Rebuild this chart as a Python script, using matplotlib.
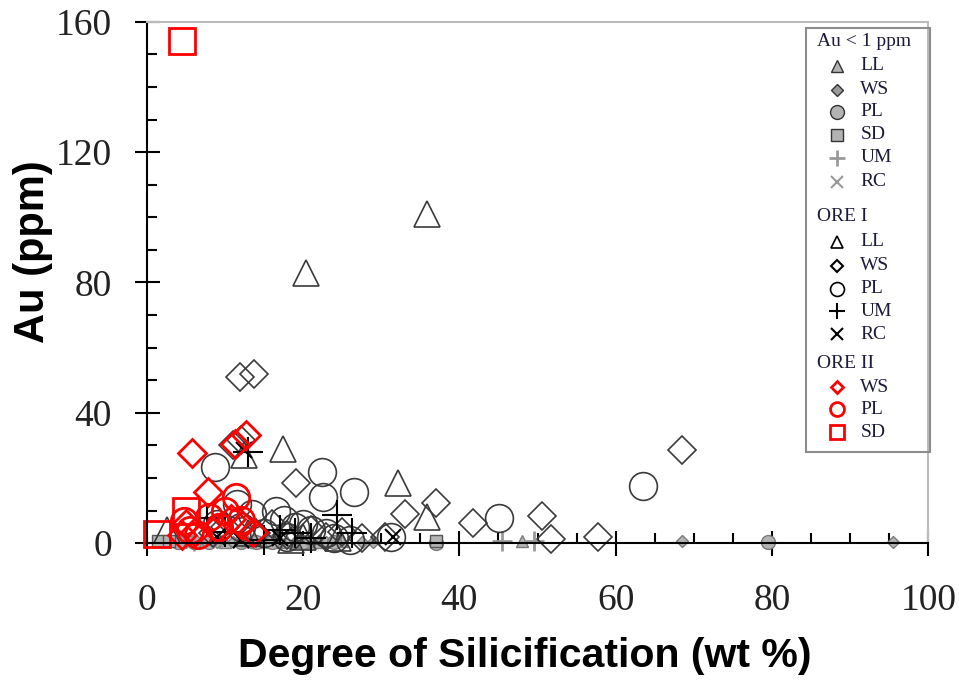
import numpy as np
import matplotlib.pyplot as plt
from matplotlib.patches import Rectangle

# ---- data ----
# Au < 1 ppm (grey filled)
low_ll_x = [10, 14, 16, 18, 20, 22, 25, 48]
low_ll_y = [0.3, 0.3, 0.2, 0.3, 0.3, 0.4, 0.5, 0.5]
low_ws_x = [5, 7, 9, 11, 13, 15, 17, 19, 21, 23, 27.5, 29, 68.5, 95.5]
low_ws_y = [0.3, 0.2, 0.3, 0.3, 0.2, 0.3, 0.2, 0.3, 0.3, 0.2, 0.3, 0.2, 0.5, 0.4]
low_pl_x = [4, 6, 8, 12, 14, 16, 20, 24, 37, 79.5]
low_pl_y = [0.3, 0.2, 0.4, 0.3, 0.2, 0.3, 0.2, 0.4, 0.0, 0.3]
low_sd_x = [1.5, 2.8, 37]
low_sd_y = [0.5, 0.5, 0.6]
low_um_x = [6, 45.5, 49.5]
low_um_y = [0.5, 0.5, 0.5]
low_rc_x = [9, 13, 20]
low_rc_y = [0.5, 0.4, 0.5]

# ORE I (open black)
o1_ll_x = [20.4, 35.8, 17.4, 32.2, 35.8, 2.6, 24.5, 20, 13, 12.5, 18.5]
o1_ll_y = [83, 101, 29, 18.5, 8, 4, 1.5, 2, 3, 27, 1]
o1_ws_x = [11.9, 13.7, 11.0, 12.0, 19.1, 33, 37, 41.8, 50.6, 51.7, 57.7, 68.5,
           30.5, 27.5, 10, 14, 16, 18, 21, 23, 8.5, 25]
o1_ws_y = [51, 52, 30, 31.5, 18.4, 9, 12.3, 6.1, 8.3, 1.2, 1.8, 28.5,
           2, 1.5, 5, 3, 6, 2.5, 4, 2, 3, 3.5]
o1_pl_x = [8.7, 22.4, 22.6, 26.5, 45.1, 63.5, 16.5, 13.5, 17.5, 19, 21, 23,
           31.3, 15, 18, 20, 24, 9, 12, 11.5, 26]
o1_pl_y = [23.3, 21.8, 14, 15.7, 7.7, 17.5, 10, 9, 7, 5, 4, 3,
           2, 3, 2, 6, 1.5, 6, 5, 12, 1]
o1_um_x = [13, 7.7, 10, 24.4, 26.3, 17, 21, 15, 19]
o1_um_y = [28, 7.7, 3.4, 8.6, 3, 4, 1.5, 1, 3]
o1_rc_x = [12.5, 9, 12, 31.5, 17]
o1_rc_y = [28.5, 2, 1, 2, 1.5]

# ORE II (red)
o2_ws_x = [5.8, 12.7, 11.3, 7.8, 5.0, 6.2, 9.0, 10.8, 12.2, 13.6, 4.5]
o2_ws_y = [27.6, 33.2, 30.5, 15.6, 6.0, 3.5, 4.5, 7.5, 5.5, 3.5, 2.5]
o2_pl_x = [11.4, 4.8, 5.5, 8.0, 10.0, 12.0, 6.5, 9.3]
o2_pl_y = [14, 6.8, 4, 8, 10, 7, 2.5, 5]
o2_sd_x = [4.5, 5.0, 1.3]
o2_sd_y = [154, 9.7, 2.8]

plt.rcParams['font.family'] = 'Liberation Serif'

fig = plt.figure(figsize=(9.59, 6.84), dpi=100)
ax = fig.add_axes([0.153, 0.206, 0.815, 0.762])

gfc = '#b3b3b3'
gec = '#7a7a7a'
blk = '#3a3a3a'
red = '#ff0000'

def pts(x, y, m, ms, **kw):
    ax.plot(x, y, linestyle='none', marker=m, markersize=ms, clip_on=False, **kw)

# Au < 1 ppm
pts(low_ll_x, low_ll_y, '^', 9, mfc=gfc, mec=gec, mew=1)
pts(low_ws_x, low_ws_y, 'D', 6, mfc=gfc, mec=gec, mew=1)
pts(low_pl_x, low_pl_y, 'o', 10, mfc=gfc, mec=gec, mew=1)
pts(low_sd_x, low_sd_y, 's', 9, mfc=gfc, mec='#555555', mew=1)
pts(low_um_x, low_um_y, '+', 14, color='#999999', mew=2)
pts(low_rc_x, low_rc_y, 'x', 9, color='#999999', mew=1.5)

# ORE I
pts(o1_ll_x, o1_ll_y, '^', 19, mfc='none', mec=blk, mew=1.2)
pts(o1_ws_x, o1_ws_y, 'D', 14, mfc='none', mec=blk, mew=1.2)
pts(o1_pl_x, o1_pl_y, 'o', 20, mfc='none', mec=blk, mew=1.2)
pts(o1_um_x, o1_um_y, '+', 21, color='black', mew=1.5)
pts(o1_rc_x, o1_rc_y, 'x', 12, color='black', mew=1.5)

# ORE II
pts(o2_ws_x, o2_ws_y, 'D', 14, mfc='none', mec=red, mew=2)
pts(o2_pl_x, o2_pl_y, 'o', 19, mfc='none', mec=red, mew=2)
pts(o2_sd_x, o2_sd_y, 's', 19, mfc='none', mec=red, mew=2)

ax.set_xlim(0, 100)
ax.set_ylim(0, 160)
ax.set_xticks(np.arange(0, 101, 20))
ax.set_xticks(np.arange(0, 101, 5), minor=True)
ax.set_yticks(np.arange(0, 161, 40))
ax.set_yticks(np.arange(0, 161, 10), minor=True)

ax.tick_params(which='major', direction='inout', length=18, width=1.5,
               labelsize=27, labelcolor='#222222')
ax.tick_params(axis='x', which='major', pad=20)
ax.tick_params(axis='y', which='major', pad=16)
ax.tick_params(which='minor', direction='in', length=7, width=1.5)

for s in ['left', 'bottom']:
    ax.spines[s].set_linewidth(1.5)
for s in ['top', 'right']:
    ax.spines[s].set_color('#bbbbbb')
    ax.spines[s].set_linewidth(1.5)

ax.set_xlabel('Degree of Silicification (wt %)', family='Liberation Sans',
              fontweight='bold', fontsize=29.5, labelpad=14)
ax.xaxis.label.set_x(0.484)
ax.set_ylabel('Au (ppm)', family='Liberation Sans', fontweight='bold',
              fontsize=30, labelpad=6)
ax.yaxis.set_label_coords(-0.12, 0.56)

# ---- hand-built legend box ----
def ax_x(px):
    return (px - 147) / 781.0

def ax_y(py):
    return (543 - py) / 521.0

ax.add_patch(Rectangle((ax_x(806), ax_y(452)), ax_x(930) - ax_x(806),
                       ax_y(28) - ax_y(452), transform=ax.transAxes,
                       fill=False, edgecolor='#8c8c8c', lw=1.5, clip_on=False,
                       zorder=5))

txt_c = '#1c1c3a'
leg_fs = 14
headers = [('Au < 1 ppm', 42), ('ORE I', 217), ('ORE II', 363)]
for t, py in headers:
    ax.text(ax_x(817), ax_y(py), t, transform=ax.transAxes, fontsize=leg_fs,
            color=txt_c, va='center', ha='left')

rows = [
    ('LL', 66, '^', 9, dict(mfc=gfc, mec='#333333', mew=1)),
    ('WS', 90, 'D', 6, dict(mfc='#999999', mec='#333333', mew=1)),
    ('PL', 112, 'o', 10, dict(mfc=gfc, mec='#333333', mew=1)),
    ('SD', 135, 's', 9, dict(mfc=gfc, mec='#333333', mew=1)),
    ('UM', 158, '+', 11, dict(color='#999999', mew=2)),
    ('RC', 182, 'x', 8, dict(color='#999999', mew=1.5)),
    ('LL', 242, '^', 9, dict(mfc='none', mec='black', mew=1.2)),
    ('WS', 266, 'D', 6, dict(mfc='none', mec='black', mew=1.5)),
    ('PL', 289, 'o', 10, dict(mfc='none', mec='black', mew=1.2)),
    ('UM', 311, '+', 11, dict(color='black', mew=1.5)),
    ('RC', 334, 'x', 8, dict(color='black', mew=1.5)),
    ('WS', 387, 'D', 6, dict(mfc='none', mec=red, mew=2)),
    ('PL', 409, 'o', 10, dict(mfc='none', mec=red, mew=2)),
    ('SD', 432, 's', 10, dict(mfc='none', mec=red, mew=2)),
]
for lab, py, m, ms, kw in rows:
    ax.plot([ax_x(837)], [ax_y(py)], transform=ax.transAxes, marker=m,
            markersize=ms, linestyle='none', clip_on=False, zorder=6, **kw)
    ax.text(ax_x(860), ax_y(py), lab, transform=ax.transAxes, fontsize=leg_fs,
            color=txt_c, va='center', ha='left')

fig.savefig('out.png', dpi=100)
